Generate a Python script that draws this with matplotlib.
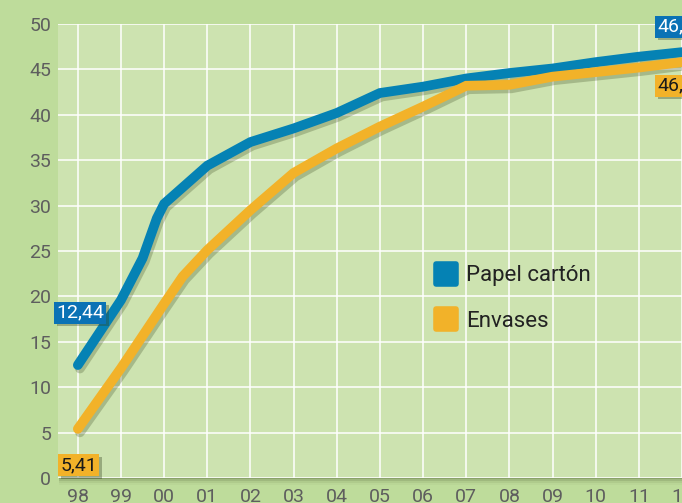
import matplotlib
matplotlib.use('Agg')
import matplotlib.pyplot as plt
import matplotlib.patheffects as pe
from matplotlib.lines import Line2D
from matplotlib.markers import MarkerStyle
from matplotlib.patches import Rectangle

# ejes: 98 .. 12
years = ['98', '99', '00', '01', '02', '03', '04', '05', '06', '07', '08', '09', '10', '11', '12']

# Papel cartón
papel_x = [0, 1, 1.5, 1.83, 2, 3, 4, 5, 6, 7, 8, 9, 10, 11, 12, 13, 14]
papel_y = [12.44, 19.6, 24.2, 28.6, 30.2, 34.4, 37.0, 38.5, 40.2, 42.4, 43.1, 44.0, 44.6, 45.1, 45.8, 46.4, 46.9]

# Envases
envases_x = [0, 1, 2, 2.43, 3, 4, 5, 6, 7, 8, 9, 10, 11, 12, 13, 14]
envases_y = [5.41, 12.1, 19.2, 22.2, 25.1, 29.5, 33.6, 36.3, 38.7, 40.9, 43.2, 43.3, 44.2, 44.7, 45.2, 45.8]

labels = ['Papel cartón', 'Envases']
colors = ['#0582b4', '#f2b229']
first_labels = ['12,44', '5,41']
last_labels = ['46,77', '46,41']

FONT = ['Roboto', 'DejaVu Sans']

W, H = 682, 503
fig = plt.figure(figsize=(W / 100, H / 100), dpi=100)
fig.patch.set_facecolor('#bedc9b')

left, bottom, top = 58, 478, 24
ax = fig.add_axes([left / W, 1 - bottom / H, (W - left) / W, (bottom - top) / H])
ax.set_facecolor('#cde3b0')

# sombra bajo el area del grafico
for i, a in enumerate([0.3, 0.18, 0.1, 0.05]):
    fig.patches.append(Rectangle(((left + 1) / W, 1 - (bottom + 1 + i * 2) / H),
                                 (W - left) / W, (bottom - top) / H,
                                 transform=fig.transFigure, facecolor='#5c6e40',
                                 alpha=a, edgecolor='none', zorder=-5))

shadow = [pe.SimpleLineShadow(offset=(1.5, -2.5), shadow_color='#4a5a30', alpha=0.3), pe.Normal()]
ax.plot(papel_x, papel_y, color=colors[0], lw=7, solid_capstyle='round',
        solid_joinstyle='miter', path_effects=shadow, zorder=4)
ax.plot(envases_x, envases_y, color=colors[1], lw=7, solid_capstyle='round',
        solid_joinstyle='miter', path_effects=shadow, zorder=5)

ax.set_xlim(-0.46, 14.0)
ax.set_ylim(0, 50)
ax.set_xticks(range(len(years)))
ax.set_xticklabels(years)
ax.set_yticks(range(0, 51, 5))
ax.grid(True, color='white', lw=1.1)
ax.set_axisbelow(True)
for s in ax.spines.values():
    s.set_visible(False)
ax.tick_params(length=0, labelsize=14, labelcolor='#5e5e5e', pad=5)
for t in ax.get_xticklabels() + ax.get_yticklabels():
    t.set_family(FONT)
ax.tick_params(axis='x', pad=7)

box_shadow = [pe.withSimplePatchShadow(offset=(2, -2), shadow_rgbFace='#33401f', alpha=0.35)]
# etiquetas de valores
t = ax.text(0.05, 18.2, first_labels[0], color='white', fontsize=14, ha='center', va='center',
            family=FONT, zorder=6,
            bbox=dict(boxstyle='square,pad=0.1', fc='#0a72b5', ec='none'))
t.get_bbox_patch().set_path_effects(box_shadow)
t = ax.text(0.02, 1.4, first_labels[1], color='#1a1a1a', fontsize=14, ha='center', va='center',
            family=FONT, zorder=6,
            bbox=dict(boxstyle='square,pad=0.1', fc='#f2b229', ec='none'))
t.get_bbox_patch().set_path_effects(box_shadow)
t = ax.text(13.42, 49.7, last_labels[0], color='white', fontsize=14, ha='left', va='center',
            family=FONT, zorder=6, clip_on=False,
            bbox=dict(boxstyle='square,pad=0.1', fc='#0a72b5', ec='none'))
t.get_bbox_patch().set_path_effects(box_shadow)
t = ax.text(13.42, 43.2, last_labels[1], color='#1a1a1a', fontsize=14, ha='left', va='center',
            family=FONT, zorder=6, clip_on=False,
            bbox=dict(boxstyle='square,pad=0.1', fc='#f2b229', ec='none'))
t.get_bbox_patch().set_path_effects(box_shadow)

# leyenda
handles = [Line2D([], [], linestyle='', marker=MarkerStyle('s', joinstyle='round'),
                  ms=14, mew=4, color=c, mec=c) for c in colors]
leg = ax.legend(handles, labels, loc='center left', bbox_to_anchor=(0.568, 0.395),
                frameon=False, handletextpad=0.3, labelspacing=1.1,
                handlelength=1.2, prop={'family': FONT, 'size': 16})
for txt in leg.get_texts():
    txt.set_color('#222222')

fig.savefig('out.png', dpi=100, facecolor=fig.get_facecolor())
